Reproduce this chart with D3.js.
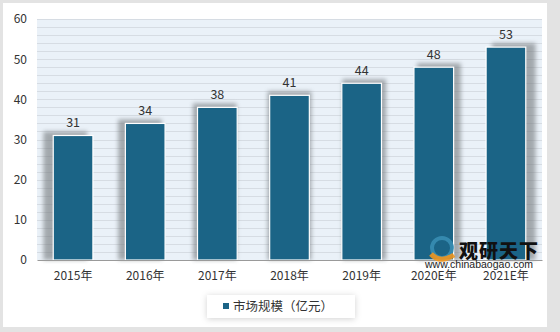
<!DOCTYPE html>
<html>
<head>
<meta charset="utf-8">
<script src="https://cdn.jsdelivr.net/npm/d3@7/dist/d3.min.js"></script>
<style>
  body { margin: 0; background: #e3e3e3; }
  svg { display: block; font-family: "Noto Sans CJK SC", "Noto Sans", sans-serif; }
</style>
</head>
<body>
<svg width="560" height="332"></svg>
<script>
const years = ["2015年", "2016年", "2017年", "2018年", "2019年", "2020E年", "2021E年"];
const values = [31, 34, 38, 41, 44, 48, 53];
const yTicks = [0, 10, 20, 30, 40, 50, 60];
const seriesName = "市场规模（亿元）";

const svg = d3.select("svg");
const W = 560, H = 332;
const m = { left: 37, right: 18, top: 19, bottom: 72 };

const defs = svg.append("defs");
defs.append("filter").attr("id", "blur")
    .attr("x", "-30%").attr("y", "-30%").attr("width", "160%").attr("height", "160%")
    .append("feGaussianBlur").attr("stdDeviation", 2.2);
defs.append("filter").attr("id", "boxshadow")
    .attr("x", "-20%").attr("y", "-40%").attr("width", "140%").attr("height", "180%")
    .append("feDropShadow").attr("dx", 0).attr("dy", 1).attr("stdDeviation", 3)
    .attr("flood-color", "#000").attr("flood-opacity", 0.18);

// white panel
svg.append("rect").attr("x", 3).attr("y", 3).attr("width", 544).attr("height", 324)
    .attr("fill", "#fff");

const x = d3.scaleBand().domain(years)
    .range([m.left, W - m.right])
    .paddingInner(0.45).paddingOuter(0.225);
const y = d3.scaleLinear().domain([0, 60]).range([H - m.bottom, m.top]);

// plot background
svg.append("rect")
    .attr("x", m.left).attr("y", y(60))
    .attr("width", W - m.right - m.left).attr("height", y(0) - y(60))
    .attr("fill", "#eaf1f8");

// minor grid every 2 units
svg.append("g").selectAll("line")
    .data(d3.range(2, 61, 2))
    .join("line")
    .attr("x1", m.left).attr("x2", W - m.right)
    .attr("y1", d => Math.round(y(d)) + 0.5).attr("y2", d => Math.round(y(d)) + 0.5)
    .attr("stroke", "#d6dce3").attr("stroke-width", 1);

// bar shadows (spread outward from the centre)
svg.append("g").selectAll("rect")
    .data(values)
    .join("rect")
    .attr("x", (d, i) => x(years[i]) + (i - 3) * 2.6 - 2)
    .attr("y", d => y(d) - 4)
    .attr("width", x.bandwidth() + 4)
    .attr("height", d => y(0) - y(d) + 4)
    .attr("fill", "#73787c").attr("opacity", 0.6)
    .attr("filter", "url(#blur)");

// bars
svg.append("g").selectAll("rect")
    .data(values)
    .join("rect")
    .attr("x", (d, i) => x(years[i]))
    .attr("y", d => y(d))
    .attr("width", x.bandwidth())
    .attr("height", d => y(0) - y(d))
    .attr("fill", "#1b6486")
    .attr("stroke", "#fff").attr("stroke-width", 1.2);

// value labels
svg.append("g").selectAll("text")
    .data(values)
    .join("text")
    .attr("x", (d, i) => x(years[i]) + x.bandwidth() / 2)
    .attr("y", d => y(d) - 8.5)
    .attr("text-anchor", "middle")
    .attr("font-size", 12.5).attr("fill", "#333")
    .text(d => d);

// x axis
const xAxis = svg.append("g")
    .attr("transform", `translate(0,${y(0)})`)
    .call(d3.axisBottom(x).tickSize(0).tickPadding(11));
xAxis.select(".domain").attr("stroke", "#9a9a9a");
xAxis.selectAll("text").attr("font-size", 12).attr("fill", "#333")
    .attr("font-family", "\"Noto Sans CJK SC\", sans-serif");

// y axis
const yAxis = svg.append("g")
    .attr("transform", `translate(${m.left - 10},0)`)
    .call(d3.axisLeft(y).tickValues(yTicks).tickSize(0).tickPadding(0));
yAxis.select(".domain").remove();
yAxis.selectAll("text").attr("font-size", 12).attr("fill", "#333")
    .attr("font-family", "\"Noto Sans CJK SC\", sans-serif");

// watermark
const wm = svg.append("g");
wm.append("circle").attr("cx", 442).attr("cy", 248).attr("r", 10)
    .attr("fill", "none").attr("stroke", "#3a8fb5").attr("stroke-width", 4).attr("opacity", 0.85);
wm.append("path").attr("d", "M431,254 Q440,264 454,255")
    .attr("fill", "none").attr("stroke", "#f0961e").attr("stroke-width", 5).attr("opacity", 0.9);
wm.append("text").attr("x", 459).attr("y", 258)
    .attr("font-size", 19).attr("font-weight", 900).attr("fill", "#111")
    .attr("letter-spacing", 1)
    .text("观研天下");
wm.append("text").attr("x", 425).attr("y", 268)
    .attr("font-size", 10.5).attr("fill", "#222")
    .attr("font-family", "\"Liberation Sans\", Arial, sans-serif")
    .text("www.chinabaogao.com");

// legend
const lg = svg.append("g");
lg.append("rect").attr("x", 207).attr("y", 295).attr("width", 148).attr("height", 23)
    .attr("fill", "#fff").attr("filter", "url(#boxshadow)");
lg.append("rect").attr("x", 223).attr("y", 303).attr("width", 6).attr("height", 6)
    .attr("fill", "#1b6486");
lg.append("text").attr("x", 233).attr("y", 311)
    .attr("font-size", 12.5).attr("fill", "#333")
    .text(seriesName);
</script>
</body>
</html>
